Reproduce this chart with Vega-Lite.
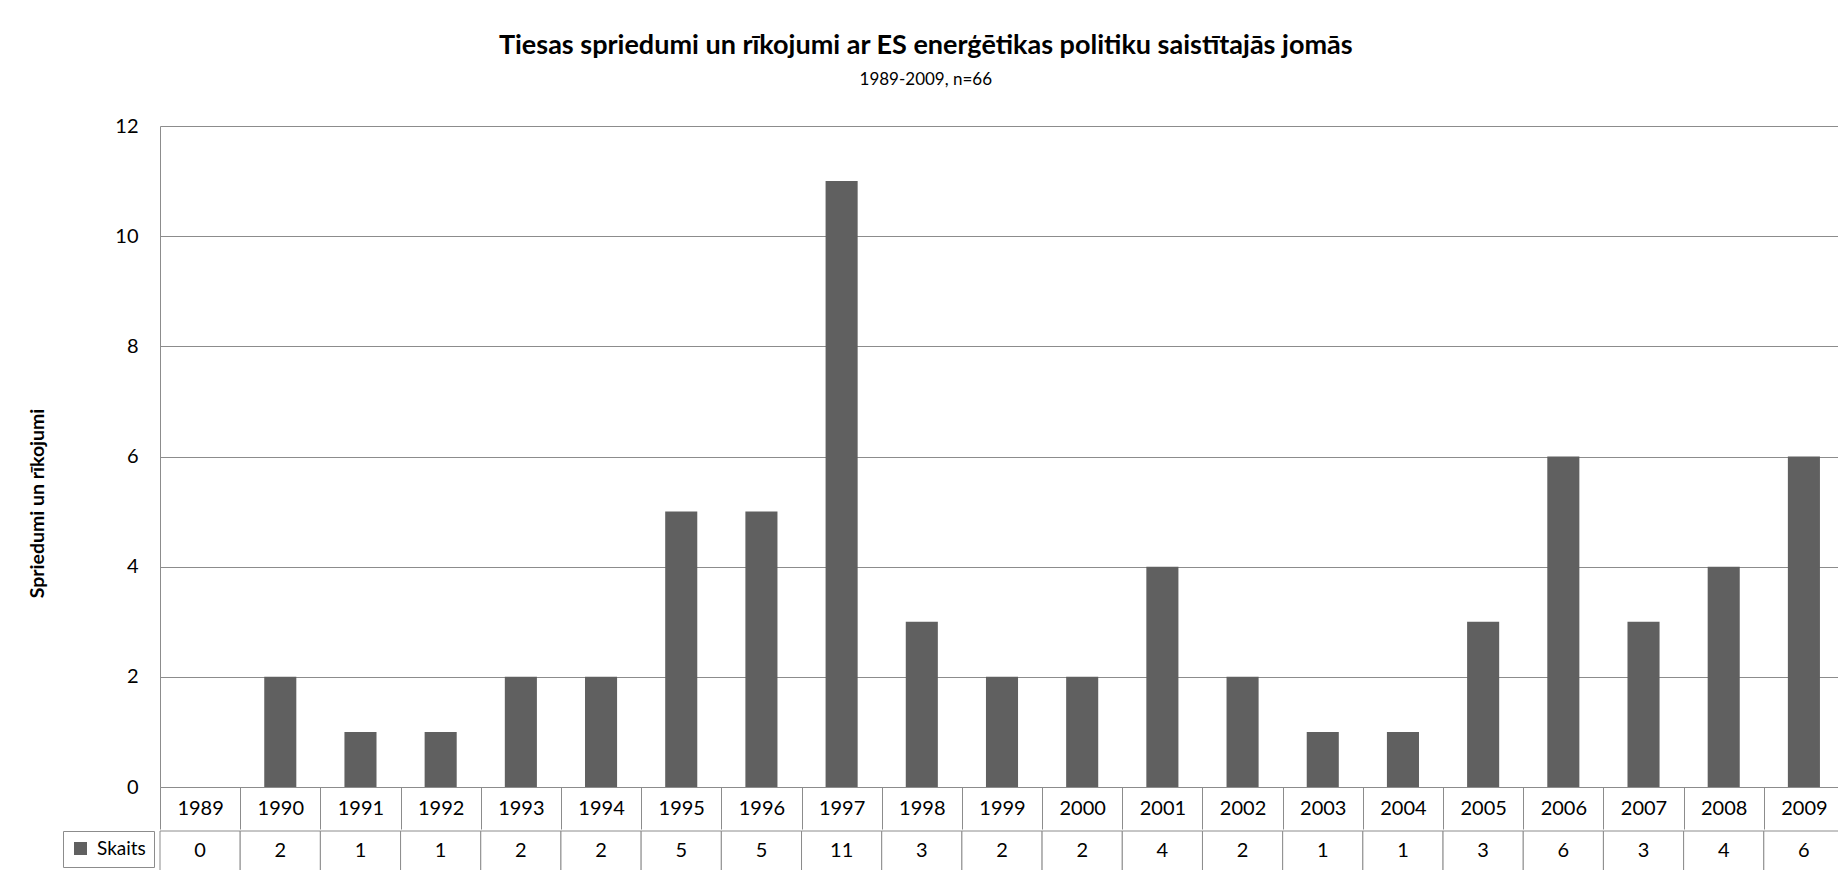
{
  "$schema": "https://vega.github.io/schema/vega-lite/v6.json",
  "background": "white",
  "padding": {"left": 27, "top": 32, "right": 0, "bottom": 0},
  "title": {
    "text": "Tiesas spriedumi un rīkojumi ar ES enerģētikas politiku saistītajās jomās",
    "subtitle": "1989-2009, n=66",
    "anchor": "middle",
    "dx": -10,
    "font": "Lato",
    "fontSize": 27,
    "fontWeight": "bold",
    "color": "black",
    "subtitleFont": "Lato",
    "subtitleFontSize": 17,
    "subtitleColor": "black",
    "subtitlePadding": 12,
    "offset": 27
  },
  "datasets": {
    "d": [
      {"Gads": "1989", "Skaits": 0},
      {"Gads": "1990", "Skaits": 2},
      {"Gads": "1991", "Skaits": 1},
      {"Gads": "1992", "Skaits": 1},
      {"Gads": "1993", "Skaits": 2},
      {"Gads": "1994", "Skaits": 2},
      {"Gads": "1995", "Skaits": 5},
      {"Gads": "1996", "Skaits": 5},
      {"Gads": "1997", "Skaits": 11},
      {"Gads": "1998", "Skaits": 3},
      {"Gads": "1999", "Skaits": 2},
      {"Gads": "2000", "Skaits": 2},
      {"Gads": "2001", "Skaits": 4},
      {"Gads": "2002", "Skaits": 2},
      {"Gads": "2003", "Skaits": 1},
      {"Gads": "2004", "Skaits": 1},
      {"Gads": "2005", "Skaits": 3},
      {"Gads": "2006", "Skaits": 6},
      {"Gads": "2007", "Skaits": 3},
      {"Gads": "2008", "Skaits": 4},
      {"Gads": "2009", "Skaits": 6}
    ]
  },
  "spacing": 0,
  "resolve": {
    "scale": {"x": "independent"}
  },
  "vconcat": [
    {
      "width": 1684,
      "height": 661,
      "data": {"name": "d"},
      "mark": {"type": "bar", "width": {"band": 0.4}},
      "encoding": {
        "x": {
          "field": "Gads",
          "type": "ordinal",
          "scale": {"paddingInner": 0, "paddingOuter": 0},
          "axis": {
            "title": null,
            "labelAngle": 0,
            "labelFont": "Lato",
            "labelFontSize": 20,
            "labelColor": "black",
            "labelBaseline": "middle",
            "labelPadding": -21,
            "tickBand": "extent",
            "tickSize": 42,
            "tickColor": "#8c8c8c",
            "tickWidth": 1,
            "domainColor": "#8c8c8c",
            "domainWidth": 1,
            "grid": false
          }
        },
        "y": {
          "field": "Skaits",
          "type": "quantitative",
          "scale": {"domain": [0, 12], "nice": false},
          "axis": {
            "values": [0, 2, 4, 6, 8, 10, 12],
            "title": "Spriedumi un rīkojumi",
            "titleFont": "Lato",
            "titleFontSize": 19.5,
            "titleFontWeight": "bold",
            "titleColor": "black",
            "titleAngle": -90,
            "titleAlign": "center",
            "titleBaseline": "middle",
            "titleX": -123,
            "titleY": 377,
            "labelFont": "Lato",
            "labelFontSize": 20,
            "labelColor": "black",
            "labelPadding": 22,
            "ticks": false,
            "grid": true,
            "gridColor": "#8c8c8c",
            "gridWidth": 1,
            "domainColor": "#8c8c8c",
            "domainWidth": 1
          }
        },
        "color": {
          "datum": "Skaits",
          "type": "nominal",
          "scale": {"domain": ["Skaits"], "range": ["#606060"]},
          "legend": {
            "title": null,
            "orient": "none",
            "legendX": -97,
            "legendY": 705
          }
        }
      }
    },
    {
      "width": 1684,
      "height": 40,
      "data": {"name": "d"},
      "encoding": {
        "x": {
          "field": "Gads",
          "type": "ordinal",
          "scale": {"paddingInner": 0, "paddingOuter": 0},
          "axis": null
        }
      },
      "layer": [
        {"mark": {"type": "rect", "fill": "white", "stroke": "#8c8c8c", "strokeWidth": 1}},
        {
          "mark": {"type": "text", "font": "Lato", "fontSize": 20, "color": "black"},
          "encoding": {"text": {"field": "Skaits", "type": "quantitative"}}
        }
      ]
    }
  ],
  "config": {
    "view": {"stroke": null},
    "font": "Lato",
    "legend": {
      "symbolType": "square",
      "symbolSize": 169,
      "symbolStrokeWidth": 0,
      "labelFont": "Lato",
      "labelFontSize": 19,
      "labelColor": "black",
      "labelOffset": 7,
      "labelLimit": 200,
      "padding": 8,
      "strokeColor": "#8c8c8c",
      "fillColor": "white"
    }
  }
}
